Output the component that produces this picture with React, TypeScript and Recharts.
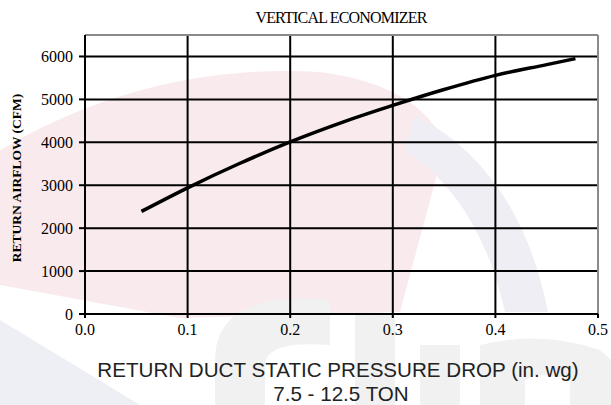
import React from 'react';
import { LineChart, Line, XAxis, YAxis, CartesianGrid, ReferenceLine } from 'recharts';

const pressure = [0.055, 0.1, 0.15, 0.2, 0.25, 0.3, 0.35, 0.4, 0.45, 0.478];
const airflow = [2390, 2940, 3500, 4010, 4460, 4860, 5230, 5560, 5810, 5950];
const xTicks = [0, 0.1, 0.2, 0.3, 0.4, 0.5];
const yTicks = [0, 1000, 2000, 3000, 4000, 5000, 6000];

const title = 'VERTICAL ECONOMIZER';
const yLabel = 'RETURN AIRFLOW (CFM)';
const xLabel1 = 'RETURN DUCT STATIC PRESSURE DROP (in. wg)';
const xLabel2 = '7.5 - 12.5 TON';

const data = pressure.map((x, i) => ({ x, y: airflow[i] }));

const serif = '"Liberation Serif", "Times New Roman", serif';
const sans = '"Liberation Sans", Arial, sans-serif';

export default function App() {
  return (
    <div style={{ position: 'absolute', left: 0, top: 0, width: 611, height: 405, background: '#fff', overflow: 'hidden' }}>
      <svg width={611} height={405} style={{ position: 'absolute', left: 0, top: 0 }}>
        <path d="M0,150 Q150,62 320,72 Q420,85 445,145 L400,312 L180,318 L0,285 Z" fill="#f9ebed" />
        <path d="M415,115 Q520,170 548,312 L505,312 Q480,200 405,150 Z" fill="#eeeef4" />
        <path d="M0,320 L140,405 L0,405 Z" fill="#eeeff5" />
        <path d="M330,300 Q215,290 215,360 L215,405 L265,405 L265,365 Q265,340 330,345 Z" fill="#f1f1f1" />
        <rect x={355} y={315} width={40} height={90} fill="#f1f1f1" />
        <rect x={420} y={345} width={40} height={60} fill="#f1f1f1" />
        <path d="M480,405 L480,345 Q540,330 600,350 L611,360 L611,405 L570,405 L570,380 Q540,370 525,380 L525,405 Z" fill="#f1f1f1" />
      </svg>
      <div style={{ position: 'absolute', left: 0, top: 0 }}>
        <LineChart width={611} height={405} data={data} margin={{ top: 35, right: 13, left: 0, bottom: 0 }}>
          <CartesianGrid stroke="#000" strokeWidth={2} horizontalValues={yTicks} verticalValues={xTicks} />
          <XAxis
            dataKey="x"
            type="number"
            domain={[0, 0.5]}
            ticks={xTicks}
            tickFormatter={(v: number) => v.toFixed(1)}
            height={91}
            tickSize={4}
            tickMargin={6}
            axisLine={{ stroke: '#000', strokeWidth: 2 }}
            tickLine={{ stroke: '#000', strokeWidth: 2 }}
            tick={{ fill: '#000', fontSize: 16, fontFamily: serif }}
            interval={0}
          />
          <YAxis
            type="number"
            domain={[0, 6500]}
            ticks={yTicks}
            width={85}
            tickSize={6}
            tickMargin={6}
            axisLine={{ stroke: '#000', strokeWidth: 2 }}
            tickLine={{ stroke: '#000', strokeWidth: 2 }}
            tick={{ fill: '#000', fontSize: 16, fontFamily: serif }}
            interval={0}
            label={{
              content: () => (
                <text x={21} y={178} transform="rotate(-90 21 178)" textAnchor="middle" fontFamily={serif} fontWeight="bold" fontSize={13.5} fill="#000">
                  {yLabel}
                </text>
              ),
            }}
          />
          <ReferenceLine x={0.5} stroke="#8a8a8a" strokeWidth={2} />
          <ReferenceLine y={6500} stroke="#8a8a8a" strokeWidth={2} />
          <Line type="monotone" dataKey="y" stroke="#000" strokeWidth={3.5} dot={false} isAnimationActive={false} />
          <text x={341} y={23} textAnchor="middle" fontFamily={serif} fontSize={16} letterSpacing={-0.8} fill="#000">{title}</text>
          <text x={338} y={377} textAnchor="middle" fontFamily={sans} fontSize={20.6} fill="#222">{xLabel1}</text>
          <text x={341} y={401} textAnchor="middle" fontFamily={sans} fontSize={20.6} fill="#222">{xLabel2}</text>
        </LineChart>
      </div>
    </div>
  );
}
